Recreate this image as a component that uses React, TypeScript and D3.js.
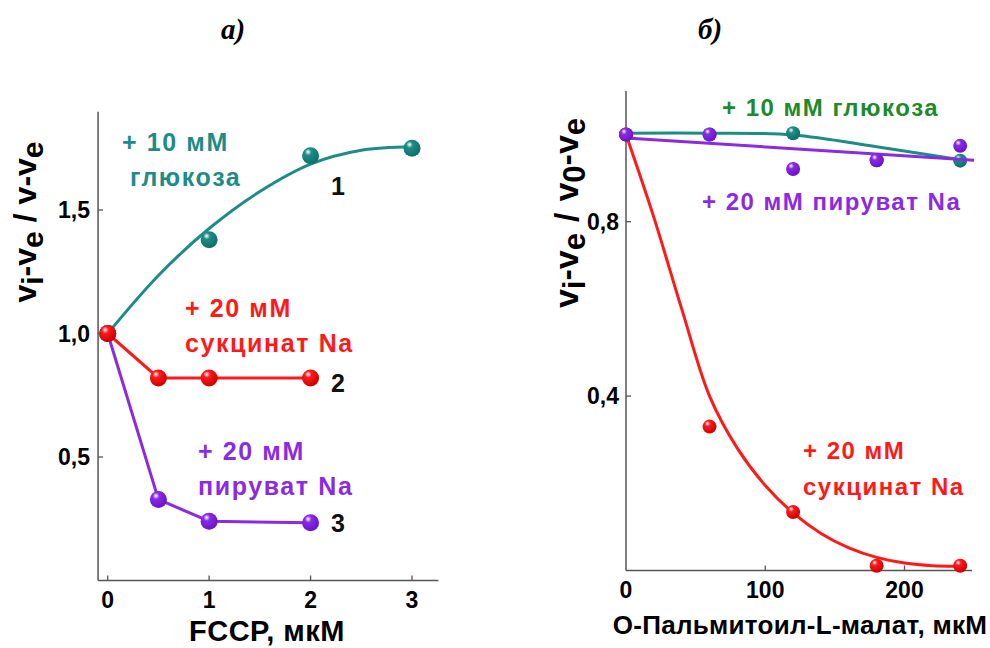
import React from 'react';
import * as d3 from 'd3';

// ---------- Panel a) data ----------
const glucoseDosesA = [0, 1, 2, 3];
const glucoseA = [1.0, 1.38, 1.72, 1.75];
const glucoseFitDosesA = [0, 0.5, 1, 1.5, 2, 2.5, 3];
const glucoseFitA = [1.0, 1.235, 1.425, 1.575, 1.686, 1.742, 1.756];
const saltDosesA = [0, 0.5, 1, 2];
const succinateA = [1.0, 0.82, 0.82, 0.82];
const pyruvateA = [1.0, 0.328, 0.24, 0.234];
const xTicksA = [0, 1, 2, 3];
const yTicksA = [0.5, 1.0, 1.5];

// ---------- Panel б) data ----------
const malateDoses = [0, 60, 120, 180, 240];
const glucoseB = [1.0, 1.0, 1.003, 0.941, 0.94];
const pyruvateB = [1.0, 1.0, 0.921, 0.941, 0.974];
const succinateB = [1.0, 0.33, 0.134, 0.011, 0.011];
const glucoseFitDosesB = [0, 60, 120, 180, 240];
const glucoseFitB = [1.003, 1.003, 0.999, 0.972, 0.942];
const pyruvateFitDosesB = [0, 250];
const pyruvateFitB = [0.992, 0.941];
const succFitDosesB = [0, 20, 40, 60, 80, 100, 120, 140, 160, 180, 200, 220, 240];
const succFitB = [1.0, 0.81, 0.6, 0.4, 0.28, 0.195, 0.132, 0.085, 0.052, 0.03, 0.017, 0.011, 0.01];
const xTicksB = [0, 100, 200];
const yTicksB = [0.4, 0.8];

const TEAL = '#1e8c86';
const TEAL_DARK = '#0f6e68';
const RED = '#ff1a1a';
const RED_DARK = '#c80000';
const PURPLE = '#8a2be2';
const PURPLE_DARK = '#6a12c8';
const GREEN = '#1d8a2c';
const AXIS = '#555';
const FONT = '"Liberation Sans", Arial, sans-serif';

const fmt = (v: number) => v.toFixed(1).replace('.', ',');

function Ball({ x, y, r, id }: { x: number; y: number; r: number; id: string }) {
  return <circle cx={x} cy={y} r={r} fill={`url(#${id})`} />;
}

function Grad({ id, c, dark }: { id: string; c: string; dark: string }) {
  return (
    <radialGradient id={id} cx="38%" cy="32%" r="70%" fx="35%" fy="28%">
      <stop offset="0%" stopColor="#ffffff" />
      <stop offset="28%" stopColor={c} />
      <stop offset="100%" stopColor={dark} />
    </radialGradient>
  );
}

export default function App() {
  // Panel a scales
  const xa = d3.scaleLinear().domain([0, 3]).range([107.7, 412]);
  const ya = d3.scaleLinear().domain([0, 1.5]).range([580.5, 210]);
  const xaMin = -0.095, xaMax = 3.26, yaMax = 1.898;

  // Panel b scales
  const xb = d3.scaleLinear().domain([0, 200]).range([626, 904.5]);
  const yb = d3.scaleLinear().domain([0, 0.8]).range([570.5, 221.7]);
  const xbMax = 248.5, ybMax = 1.1;

  const lineA = (xs: number[], ys: number[], curve: d3.CurveFactory) =>
    d3.line<number>().x((_, i) => xa(xs[i])).y((d) => ya(d)).curve(curve)(ys) || '';
  const lineB = (xs: number[], ys: number[], curve: d3.CurveFactory) =>
    d3.line<number>().x((_, i) => xb(xs[i])).y((d) => yb(d)).curve(curve)(ys) || '';

  const bold = { fontFamily: FONT, fontWeight: 700 as const };

  return (
    <svg width={990} height={648} style={{ position: 'absolute', left: 0, top: 0, background: '#fff' }}>
      <defs>
        <Grad id="gT" c={TEAL} dark={TEAL_DARK} />
        <Grad id="gR" c={RED} dark={RED_DARK} />
        <Grad id="gP" c={PURPLE} dark={PURPLE_DARK} />
      </defs>

      {/* Panel titles */}
      <text x={221} y={39} fontFamily='"Liberation Serif", "Times New Roman", serif' fontWeight={700} fontStyle="italic" fontSize={29}>а)</text>
      <text x={698} y={39} fontFamily='"Liberation Serif", "Times New Roman", serif' fontWeight={700} fontStyle="italic" fontSize={29}>б)</text>

      {/* ===== Panel a ===== */}
      <g>
        <line x1={xa(xaMin)} x2={xa(xaMin)} y1={ya(yaMax)} y2={ya(0)} stroke={AXIS} strokeWidth={1.5} />
        <line x1={xa(xaMin)} x2={xa(xaMax)} y1={ya(0)} y2={ya(0)} stroke={AXIS} strokeWidth={1.5} />
        {xTicksA.map((t) => (
          <g key={'xa' + t}>
            <line x1={xa(t)} x2={xa(t)} y1={ya(0)} y2={ya(0) - 5} stroke={AXIS} strokeWidth={1.3} />
            <text x={xa(t)} y={608} textAnchor="middle" fontSize={23} {...bold}>{t}</text>
          </g>
        ))}
        {yTicksA.map((t) => (
          <g key={'ya' + t}>
            <line x1={xa(xaMin)} x2={xa(xaMin) + 5} y1={ya(t)} y2={ya(t)} stroke={AXIS} strokeWidth={1.3} />
            <text x={90} y={ya(t) + 8} textAnchor="end" fontSize={23} {...bold}>{fmt(t)}</text>
          </g>
        ))}
        <text x={267} y={641} textAnchor="middle" fontSize={29} {...bold} letterSpacing={0.5}>FCCP, мкМ</text>
        <text transform="translate(36,222) rotate(-90)" textAnchor="middle" fontSize={32} {...bold}>
          v<tspan dy={7} fontSize={30}>i</tspan><tspan dy={-7}>-v</tspan><tspan dy={7} fontSize={30}>e</tspan>
          <tspan dy={-7} dx={9}>/</tspan><tspan dx={9}>v-v</tspan><tspan dy={7} fontSize={30}>e</tspan>
        </text>

        <path d={lineA(glucoseFitDosesA, glucoseFitA, d3.curveCatmullRom)} fill="none" stroke={TEAL} strokeWidth={3} />
        <path d={lineA(saltDosesA, succinateA, d3.curveLinear)} fill="none" stroke={RED} strokeWidth={3} />
        <path d={lineA(saltDosesA, pyruvateA, d3.curveLinear)} fill="none" stroke={PURPLE} strokeWidth={3} />

        {glucoseDosesA.map((d, i) => <Ball key={'ga' + i} x={xa(d)} y={ya(glucoseA[i])} r={8.5} id="gT" />)}
        {saltDosesA.map((d, i) => <Ball key={'pa' + i} x={xa(d)} y={ya(pyruvateA[i])} r={8.5} id="gP" />)}
        {saltDosesA.map((d, i) => <Ball key={'sa' + i} x={xa(d)} y={ya(succinateA[i])} r={8.5} id="gR" />)}

        <g fontSize={25} {...bold} letterSpacing={1.6}>
          <text x={122} y={151} fill={TEAL}>+ 10 мМ</text>
          <text x={130} y={186} fill={TEAL}>глюкоза</text>
          <text x={185} y={317} fill={RED}>+ 20 мМ</text>
          <text x={185} y={352} fill={RED}>сукцинат Na</text>
          <text x={198} y={460} fill={PURPLE}>+ 20 мМ</text>
          <text x={198} y={495} fill={PURPLE}>пируват Na</text>
          <text x={331} y={195} fill="#111">1</text>
          <text x={331} y={392} fill="#111">2</text>
          <text x={331} y={532} fill="#111">3</text>
        </g>
      </g>

      {/* ===== Panel б ===== */}
      <g>
        <line x1={xb(0)} x2={xb(0)} y1={yb(ybMax)} y2={yb(0)} stroke={AXIS} strokeWidth={1.5} />
        <line x1={xb(0)} x2={xb(xbMax)} y1={yb(0)} y2={yb(0)} stroke={AXIS} strokeWidth={1.5} />
        {xTicksB.map((t) => (
          <g key={'xb' + t}>
            {t > 0 && <line x1={xb(t)} x2={xb(t)} y1={yb(0)} y2={yb(0) - 5} stroke={AXIS} strokeWidth={1.3} />}
            <text x={xb(t)} y={598} textAnchor="middle" fontSize={23} {...bold}>{t}</text>
          </g>
        ))}
        {yTicksB.map((t) => (
          <g key={'yb' + t}>
            <line x1={xb(0)} x2={xb(0) + 5} y1={yb(t)} y2={yb(t)} stroke={AXIS} strokeWidth={1.3} />
            <text x={619} y={yb(t) + 8} textAnchor="end" fontSize={23} {...bold}>{fmt(t)}</text>
          </g>
        ))}
        <text x={800} y={634} textAnchor="middle" fontSize={26} {...bold} letterSpacing={0.3}>О-Пальмитоил-L-малат, мкМ</text>
        <text transform="translate(578,213) rotate(-90)" textAnchor="middle" fontSize={34} {...bold}>
          v<tspan dy={7} fontSize={31}>i</tspan><tspan dy={-7}>-v</tspan><tspan dy={7} fontSize={31}>e</tspan>
          <tspan dy={-7} dx={11}>/</tspan><tspan dx={11}>v</tspan><tspan dy={7} fontSize={31}>0</tspan><tspan dy={-7}>-v</tspan><tspan dy={7} fontSize={31}>e</tspan>
        </text>

        <path d={lineB(succFitDosesB, succFitB, d3.curveCatmullRom)} fill="none" stroke={RED} strokeWidth={3} />
        <path d={lineB(glucoseFitDosesB, glucoseFitB, d3.curveCatmullRom)} fill="none" stroke={TEAL} strokeWidth={3} />
        {malateDoses.map((d, i) => <Ball key={'gb' + i} x={xb(d)} y={yb(glucoseB[i])} r={7} id="gT" />)}
        <path d={lineB(pyruvateFitDosesB, pyruvateFitB, d3.curveLinear)} fill="none" stroke={PURPLE} strokeWidth={3} />
        {malateDoses.map((d, i) => <Ball key={'sb' + i} x={xb(d)} y={yb(succinateB[i])} r={7} id="gR" />)}
        {malateDoses.map((d, i) => <Ball key={'pb' + i} x={xb(d)} y={yb(pyruvateB[i])} r={7} id="gP" />)}

        <g fontSize={24} {...bold} letterSpacing={1.5}>
          <text x={722} y={116} fill={GREEN}>+ 10 мМ глюкоза</text>
          <text x={702} y={210} fill={PURPLE}>+ 20 мМ пируват Na</text>
          <text x={803} y={459} fill={RED}>+ 20 мМ</text>
          <text x={803} y={495} fill={RED}>сукцинат Na</text>
        </g>
      </g>
    </svg>
  );
}
